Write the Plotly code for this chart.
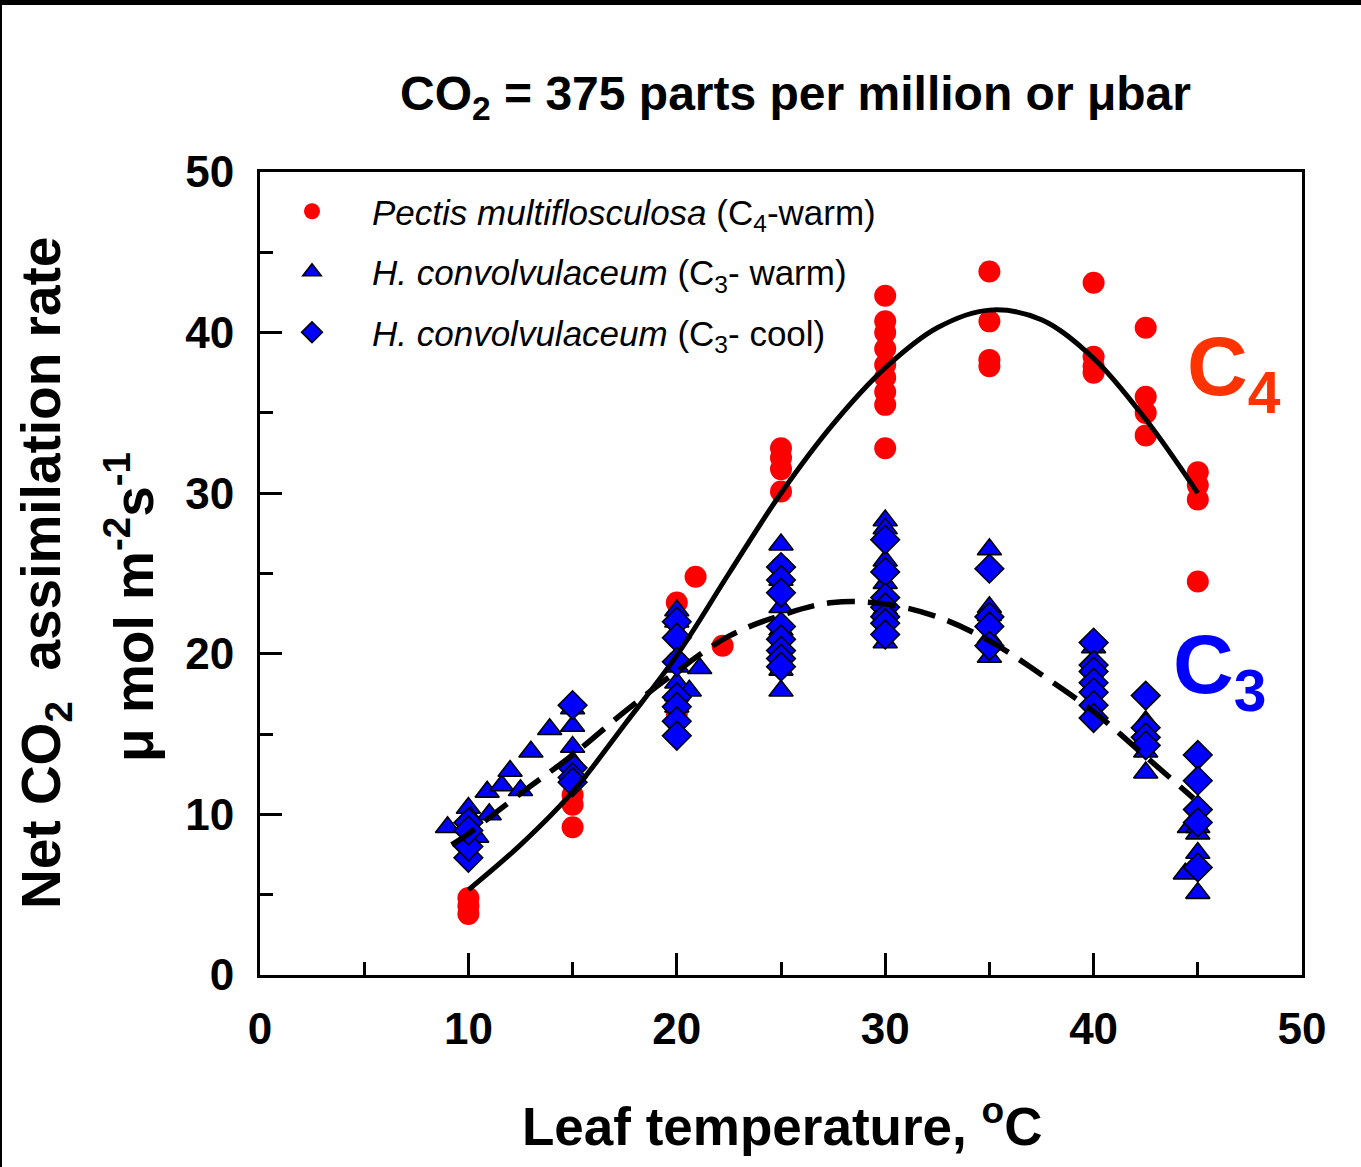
import plotly.graph_objects as go

# Pectis multiflosculosa (C4, warm grown)
c4_temp = [10, 10, 10,
           15, 15, 15,
           20, 20, 20, 20, 20, 20, 20.9, 22.2,
           25, 25, 25, 25, 25,
           30, 30, 30, 30, 30, 30, 30, 30, 30,
           35, 35, 35, 35,
           40, 40, 40, 40,
           42.5, 42.5, 42.5, 42.5,
           45, 45, 45, 45]
c4_rate = [4.8, 4.3, 3.8,
           11.2, 10.6, 9.2,
           23.2, 22.0, 21.0, 19.5, 17.0, 16.3, 24.8, 20.5,
           32.8, 32.2, 31.5, 30.1, 25.4,
           42.3, 40.7, 40.0, 39.0, 38.0, 37.2, 36.3, 35.5, 32.8,
           43.8, 40.7, 38.3, 37.9,
           43.1, 38.5, 37.9, 37.5,
           40.3, 36.0, 35.0, 33.6,
           31.3, 30.5, 29.6, 24.5]

# H. convolvulaceum (C3, warm grown)
c3w_temp = [9.0, 10.0, 10.1, 10.4, 10.9, 11.0, 11.6, 12.0, 12.5, 13.0, 13.9,
            15, 15, 15, 15,
            20, 20, 20, 20, 20, 20, 20, 20.6, 21.1,
            25, 25, 25, 25, 25, 25, 25,
            30, 30, 30, 30, 30, 30, 30,
            35, 35, 35, 35, 35,
            40, 40, 40, 40,
            42.5, 42.5, 42.5,
            44.6, 45, 45, 44.4, 45, 45]
c3w_rate = [9.2, 10.4, 9.8, 8.6, 11.4, 10.0, 11.8, 12.7, 11.5, 13.9, 15.3,
            16.6, 15.5, 14.2, 13.3,
            22.7, 22.0, 21.3, 19.2, 18.2, 17.4, 16.7, 17.7, 19.1,
            26.8, 24.6, 22.9, 21.5, 20.4, 19.0, 17.7,
            28.3, 27.8, 25.8, 24.4, 22.8, 21.5, 20.7,
            26.5, 22.9, 22.4, 21.0, 19.8,
            20.4, 18.5, 17.1, 16.4,
            15.8, 13.9, 12.6,
            9.2, 9.2, 7.6, 6.3, 5.1, 8.8]

# H. convolvulaceum (C3, cool grown)
c3c_temp = [10, 10, 10, 10,
            15, 15, 15, 15,
            20, 20, 20, 20, 20, 20, 20,
            25, 25, 25, 25, 25, 25, 25, 25,
            30, 30, 30, 30, 30, 30, 30,
            35, 35, 35, 35,
            40, 40, 40, 40, 40, 40, 40,
            42.5, 42.5, 42.5, 42.5,
            45, 45, 45, 45, 45]
c3c_rate = [7.3, 8.0, 9.5, 9.0,
            16.8, 12.9, 12.3, 12.0,
            22.0, 21.0, 19.5, 17.3, 16.7, 15.8, 14.9,
            25.4, 24.6, 23.8, 21.7, 20.9, 20.2, 19.7, 19.2,
            27.1, 25.1, 23.5, 22.9, 22.3, 21.9, 21.2,
            25.3, 22.3, 21.7, 20.5,
            20.7, 19.3, 18.9, 18.2, 17.6, 16.8, 16.0,
            17.4, 15.4, 14.8, 14.3,
            13.7, 12.1, 10.3, 9.5, 6.7]

# Fitted response curves
c4_fit_temp = [10, 12.5, 15, 17.5, 20, 22.5, 25, 27.5, 30, 32.5, 35, 37.5, 40, 42.5, 45]
c4_fit_rate = [5.3, 8.1, 11.4, 15.6, 19.9, 25.0, 30.0, 34.3, 37.8, 40.3, 41.4, 40.8, 38.4, 34.6, 30.0]

c3_fit_temp = [9.2, 10, 12.5, 15, 17.5, 20, 22.5, 25, 27.5, 30, 32.5, 35, 37.5, 40, 42.5, 44.8]
c3_fit_rate = [8.1, 8.8, 11.3, 13.7, 16.4, 18.9, 21.1, 22.4, 23.2, 23.1, 22.3, 20.8, 18.7, 16.4, 13.6, 11.0]

x_ticks = [0, 10, 20, 30, 40, 50]
y_ticks = [0, 10, 20, 30, 40, 50]

FONT = "Liberation Sans, Arial, sans-serif"
RED = "#ff0000"
BLUE = "#0000ff"

fig = go.Figure()

fig.add_trace(go.Scatter(
    x=c4_temp, y=c4_rate, mode="markers",
    name="<i>Pectis multiflosculosa</i> (C<sub>4</sub>-warm)",
    legendgroup="a",
    marker=dict(symbol="circle", size=22, color=RED, line=dict(width=0)),
))
fig.add_trace(go.Scatter(
    x=c3w_temp, y=c3w_rate, mode="markers",
    name="<i>H. convolvulaceum</i> (C<sub>3</sub>- warm)",
    legendgroup="b",
    marker=dict(symbol="triangle-up", size=21, color=BLUE, line=dict(width=1.6, color="black")),
))
fig.add_trace(go.Scatter(
    x=c3c_temp, y=c3c_rate, mode="markers",
    name="<i>H. convolvulaceum</i> (C<sub>3</sub>- cool)",
    legendgroup="c",
    marker=dict(symbol="diamond", size=22, color=BLUE, line=dict(width=1.6, color="black")),
))
fig.add_trace(go.Scatter(
    x=c4_fit_temp, y=c4_fit_rate, mode="lines", showlegend=False,
    line=dict(color="black", width=5, shape="spline"),
))
fig.add_trace(go.Scatter(
    x=c3_fit_temp, y=c3_fit_rate, mode="lines", showlegend=False,
    line=dict(color="black", width=5.5, shape="spline", dash="28px,13px"),
))

axis_common = dict(
    showline=True, linecolor="black", linewidth=3, mirror=True,
    ticks="inside", ticklen=22, tickwidth=3, tickcolor="black",
    showgrid=False, zeroline=False,
    tickfont=dict(family=FONT, size=44, color="black", weight="bold"),
    minor=dict(ticks="inside", ticklen=13, tickwidth=3, tickcolor="black", dtick=5, showgrid=False),
)

fig.update_xaxes(range=[0, 50], tickvals=x_ticks, ticklabelstandoff=13, **axis_common)
fig.update_yaxes(range=[0, 50], tickvals=y_ticks, ticklabelstandoff=14, **axis_common)

W, H = 1361, 1167
L, R, T, B = 260, 59, 172, 192
pw, ph = W - L - R, H - T - B


def px_to_paper(x, y):
    return (x - L) / pw, (H - B - y) / ph


def label(text, x, y, size, color="black", angle=0):
    px, py = px_to_paper(x, y)
    return dict(text=text, x=px, y=py, xref="paper", yref="paper",
                xanchor="center", yanchor="middle", showarrow=False,
                textangle=angle, font=dict(family=FONT, size=size, color=color))


ann = [
    label("<b>CO<sub>2</sub> = 375 parts per million or μbar</b>", 795, 97, 48),
    label("<b>Leaf temperature, <sup>o</sup>C</b>", 782, 1122, 53),
    label("<b>Net CO<sub>2</sub>  assimilation rate</b>", 45, 573, 55, angle=-90),
    label("<b>μ mol m<sup>-2</sup>s<sup>-1</sup></b>", 130, 607, 55, angle=-90),
    label("<b>C<sub>4</sub></b>", 1234, 372, 84, color="#ff3300"),
    label("<b>C<sub>3</sub></b>", 1219, 670, 84, color=BLUE),
]

# page frame: heavy top rule and thin left rule
x0, y_top = px_to_paper(0, 0)
x1, y_band = px_to_paper(W, 5)
xl, y_bot = px_to_paper(2, H)
shapes = [
    dict(type="rect", xref="paper", yref="paper", x0=x0, x1=x1, y0=y_band, y1=y_top,
         fillcolor="black", line=dict(width=0), layer="above"),
    dict(type="rect", xref="paper", yref="paper", x0=x0, x1=xl, y0=y_bot, y1=y_top,
         fillcolor="black", line=dict(width=0), layer="above"),
]

lx, ly = px_to_paper(252, 182)
fig.update_layout(
    width=W, height=H,
    margin=dict(l=L, r=R, t=T, b=B, pad=0),
    paper_bgcolor="white", plot_bgcolor="white",
    annotations=ann, shapes=shapes,
    showlegend=True,
    legend=dict(
        x=lx, y=ly, xanchor="left", yanchor="top",
        bgcolor="rgba(0,0,0,0)", borderwidth=0,
        font=dict(family=FONT, size=35, color="black"),
        itemwidth=110, itemsizing="trace",
        traceorder="grouped", tracegroupgap=12,
    ),
)

fig.write_html("out.html")
